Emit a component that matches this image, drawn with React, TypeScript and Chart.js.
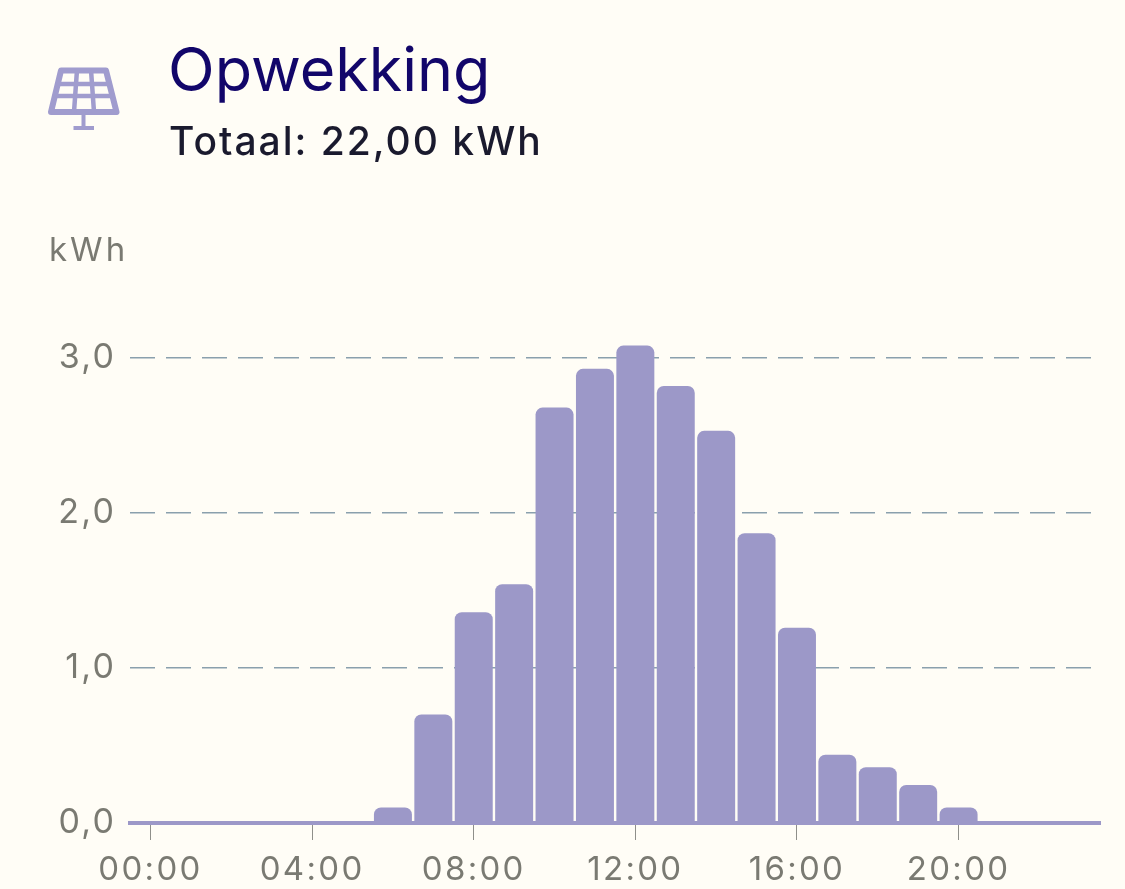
import React, { useEffect, useRef } from "react";
import { Chart, registerables } from "chart.js";

Chart.register(...registerables);

const hours = ["00:00","01:00","02:00","03:00","04:00","05:00","06:00","07:00","08:00","09:00","10:00","11:00","12:00","13:00","14:00","15:00","16:00","17:00","18:00","19:00","20:00","21:00","22:00","23:00"];
const generation = [0,0,0,0,0,0,0.10,0.70,1.36,1.54,2.68,2.93,3.08,2.82,2.53,1.87,1.26,0.44,0.36,0.245,0.10,0,0,0];
const yTicks = [0, 1, 2, 3];
const titleText = "Opwekking";
const totalText = "Totaal: 22,00 kWh";
const unitText = "kWh";

const BG = "#fffdf6";
const BAR = "#9c98c8";
const GREY = "#7a7a72";
const FONT = "Inter, sans-serif";

const spacingPlugin = {
  id: "spacing",
  beforeDraw(chart: any) {
    chart.ctx.letterSpacing = "2.3px";
  },
};

export default function App() {
  const ref = useRef<HTMLCanvasElement>(null);
  useEffect(() => {
    document.body.style.margin = "0";
    document.body.style.background = BG;
    const chart = new Chart(ref.current!, {
      type: "bar",
      data: {
        labels: hours,
        datasets: [{
          data: generation,
          backgroundColor: BAR,
          barPercentage: 0.94,
          categoryPercentage: 1,
          borderRadius: { topLeft: 7, topRight: 7, bottomLeft: 0, bottomRight: 0 },
          borderSkipped: false,
        }],
      },
      plugins: [spacingPlugin],
      options: {
        animation: false,
        responsive: false,
        layout: { padding: { top: 327, right: 25, left: 0, bottom: 0 } },
        plugins: { legend: { display: false }, tooltip: { enabled: false } },
        scales: {
          x: {
            afterFit(s: any) { s.height = 66; },
            afterBuildTicks(s: any) { s.ticks = s.ticks.filter((t: any) => t.value % 4 === 0); },
            border: { display: true, color: BAR, width: 4, z: 1 },
            grid: {
              offset: false,
              drawOnChartArea: false,
              drawTicks: true,
              tickLength: 17,
              tickWidth: 1,
              tickColor: "#8f8f8a",
            },
            ticks: {
              autoSkip: false,
              maxRotation: 0,
              minRotation: 0,
              padding: 10,
              color: GREY,
              font: { family: FONT, size: 33, weight: "400" },
              callback: (v: any) => hours[v],
            },
          },
          y: {
            min: 0,
            max: 3.2,
            afterFit(s: any) { s.width = 130.3; },
            afterBuildTicks(s: any) { s.ticks = yTicks.map((value) => ({ value })); },
            border: { display: false, dash: [25, 11] },
            grid: {
              color: "#8aa0ad",
              lineWidth: 1.5,
              drawTicks: false,
              z: -1,
            },
            ticks: {
              padding: 14,
              color: GREY,
              font: { family: FONT, size: 34, weight: "400" },
              callback: (v: any) => Number(v).toFixed(1).replace(".", ","),
            },
          },
        },
      },
    } as any);
    return () => chart.destroy();
  }, []);

  const text = (extra: React.CSSProperties): React.CSSProperties => ({
    position: "absolute",
    fontFamily: FONT,
    whiteSpace: "nowrap",
    lineHeight: 1,
    ...extra,
  });

  return (
    <div style={{ position: "absolute", left: 0, top: 0, width: 1125, height: 889, background: BG, overflow: "hidden" }}>
      <canvas ref={ref} width={1125} height={889} style={{ position: "absolute", left: 0, top: 0, width: 1125, height: 889 }} />
      <svg width={1125} height={140} style={{ position: "absolute", left: 0, top: 0 }}>
        <g fill="none" stroke="#a09cce" strokeLinejoin="round">
          <path d="M61 70.5 L106 70.5 L116.5 112 L51 112 Z" strokeWidth={6} />
          <path d="M57 84 H111 M54 96 H114 M77 70 L74 112 M91 70 L94 112" strokeWidth={4.5} />
          <path d="M83.5 113 V127 M73.5 128 H94" strokeWidth={4} />
        </g>
      </svg>
      <div style={text({ left: 168, top: 39, fontSize: 61, color: "#12066a", fontWeight: 400 })}>{titleText}</div>
      <div style={text({ left: 169, top: 121, fontSize: 39, color: "#1a1a2e", fontWeight: 500, letterSpacing: 2 })}>{totalText}</div>
      <div style={text({ left: 49, top: 233, fontSize: 33, color: GREY, fontWeight: 400, letterSpacing: 3 })}>{unitText}</div>
    </div>
  );
}
